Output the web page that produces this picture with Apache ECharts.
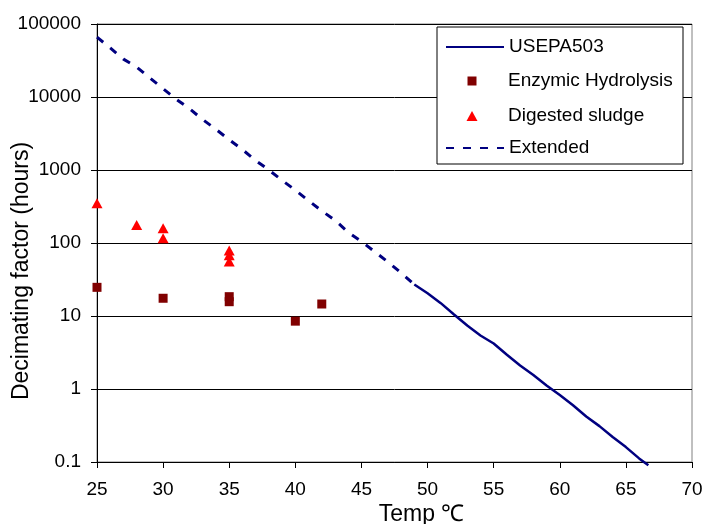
<!DOCTYPE html>
<html>
<head>
<meta charset="utf-8">
<script src="https://cdn.jsdelivr.net/npm/echarts@6/dist/echarts.min.js"></script>
<style>
  html, body { margin: 0; padding: 0; background: #fff; }
  #chart { width: 707px; height: 524px; }
</style>
</head>
<body>
<div id="chart"></div>
<script>
// temperature (C) / decimating factor (hours)
var usepaTemp = [49, 50, 51, 52, 53, 54, 55, 56, 57, 58, 59, 60, 61, 62, 63, 64, 65, 66, 66.7];
var usepaHours = [27, 20.5, 15, 10.5, 7.4, 5.4, 4.2, 2.95, 2.1, 1.55, 1.12, 0.83, 0.6, 0.42, 0.31, 0.22, 0.16, 0.112, 0.09];

var extTemp = [25, 26, 27, 28, 29, 30, 31, 32, 33, 34, 35, 36, 37, 38, 39, 40, 41, 42, 43, 44, 45, 46, 47, 48, 49];
var extHours = [66000, 47000, 33000, 25700, 18200, 13000, 9300, 6900, 4900, 3600, 2600, 1900, 1350, 1000, 720, 530, 380, 275, 205, 140, 105, 76, 55, 39, 27];

var enzTemp = [25, 30, 35, 35, 40, 42];
var enzHours = [24.7, 17.5, 18.4, 15.7, 8.5, 14.6];

var sludgeTemp = [25, 28, 30, 30, 35, 35, 35];
var sludgeHours = [350, 177, 159, 116, 79, 68, 56];

var xTicks = [25, 30, 35, 40, 45, 50, 55, 60, 65, 70];
var yTicks = [0.1, 1, 10, 100, 1000, 10000, 100000];

function pairs(xs, ys) {
    var out = [];
    for (var i = 0; i < xs.length; i++) {
        out.push([xs[i], ys[i]]);
    }
    return out;
}

var FONT = "'Liberation Sans', Arial, sans-serif";
var NAVY = '#000080';

var chart = echarts.init(document.getElementById('chart'), null, { renderer: 'canvas' });

// one legend per row so line icons and point icons can have their own sizes
function legendRow(name, isLine, top, left, w, h, padLeft) {
    var lg = {
        data: [name],
        left: left,
        top: top,
        padding: 0,
        itemWidth: w,
        itemHeight: h,
        selectedMode: false,
        z: 5,
        textStyle: {
            fontFamily: FONT,
            fontSize: 19,
            lineHeight: 20,
            color: '#000',
            padding: [0, 0, 0, padLeft]
        }
    };
    if (isLine) {
        // hide the marker dot on line icons, keep the line
        lg.itemStyle = { opacity: 0 };
    }
    return lg;
}

var option = {
    animation: false,
    backgroundColor: '#fff',
    grid: {
        left: 97,
        right: 15,
        top: 24,
        bottom: 62,
        containLabel: false,
        outerBoundsMode: 'none',
        show: true,
        borderColor: '#808080',
        borderWidth: 1,
        backgroundColor: 'transparent'
    },
    legend: [
        legendRow('USEPA503', true, 37, 445, 58, 14, 0),
        legendRow('Enzymic Hydrolysis', false, 71, 467.5, 9, 9, 26.5),
        legendRow('Digested sludge', false, 106, 466.5, 11, 10, 25.5),
        legendRow('Extended', true, 138, 445, 58, 14, 0)
    ],
    graphic: [{
        type: 'rect',
        z: 3,
        shape: { x: 437, y: 27, width: 246, height: 137 },
        style: { fill: '#fff', stroke: '#000', lineWidth: 1 }
    }],
    xAxis: {
        type: 'value',
        min: xTicks[0],
        max: xTicks[xTicks.length - 1],
        interval: 5,
        name: 'Temp ℃',
        nameLocation: 'middle',
        nameGap: 41,
        nameMoveOverlap: false,
        nameTextStyle: {
            fontFamily: FONT,
            fontSize: 23,
            color: '#000',
            padding: [0, 0, 0, 54]
        },
        axisLine: { lineStyle: { color: '#000', width: 1 } },
        axisTick: { show: true, length: 6, lineStyle: { color: '#000' } },
        axisLabel: {
            margin: 18,
            fontFamily: FONT,
            fontSize: 19,
            color: '#000'
        },
        splitLine: { show: false }
    },
    yAxis: {
        type: 'log',
        logBase: 10,
        min: yTicks[0],
        max: yTicks[yTicks.length - 1],
        name: 'Decimating factor (hours)',
        nameLocation: 'middle',
        nameGap: 64,
        nameMoveOverlap: false,
        nameTextStyle: {
            fontFamily: FONT,
            fontSize: 23,
            color: '#000',
            padding: [0, 56, 0, 0]
        },
        axisLine: { show: true, lineStyle: { color: '#000', width: 1 } },
        axisTick: { show: true, length: 6, lineStyle: { color: '#000' } },
        axisLabel: {
            margin: 16,
            fontFamily: FONT,
            fontSize: 19,
            color: '#000',
            formatter: function (v) { return String(v); }
        },
        splitLine: { show: true, lineStyle: { color: '#000', width: 1 } },
        minorTick: { show: false }
    },
    series: [
        {
            name: 'USEPA503',
            type: 'line',
            data: pairs(usepaTemp, usepaHours),
            symbol: 'none',
            lineStyle: { color: NAVY, width: 2.5 },
            itemStyle: { color: NAVY },
            clip: false,
            z: 2
        },
        {
            name: 'Enzymic Hydrolysis',
            type: 'scatter',
            data: pairs(enzTemp, enzHours),
            symbol: 'rect',
            symbolSize: 9,
            itemStyle: { color: '#800000', opacity: 1 },
            z: 3
        },
        {
            name: 'Digested sludge',
            type: 'scatter',
            data: pairs(sludgeTemp, sludgeHours),
            symbol: 'triangle',
            symbolSize: [11, 10],
            itemStyle: { color: '#ff0000', opacity: 1 },
            z: 3
        },
        {
            name: 'Extended',
            type: 'line',
            data: pairs(extTemp, extHours),
            symbol: 'none',
            lineStyle: { color: NAVY, width: 3, type: [8, 9] },
            itemStyle: { color: NAVY },
            z: 2
        }
    ]
};

chart.setOption(option);
</script>
</body>
</html>
